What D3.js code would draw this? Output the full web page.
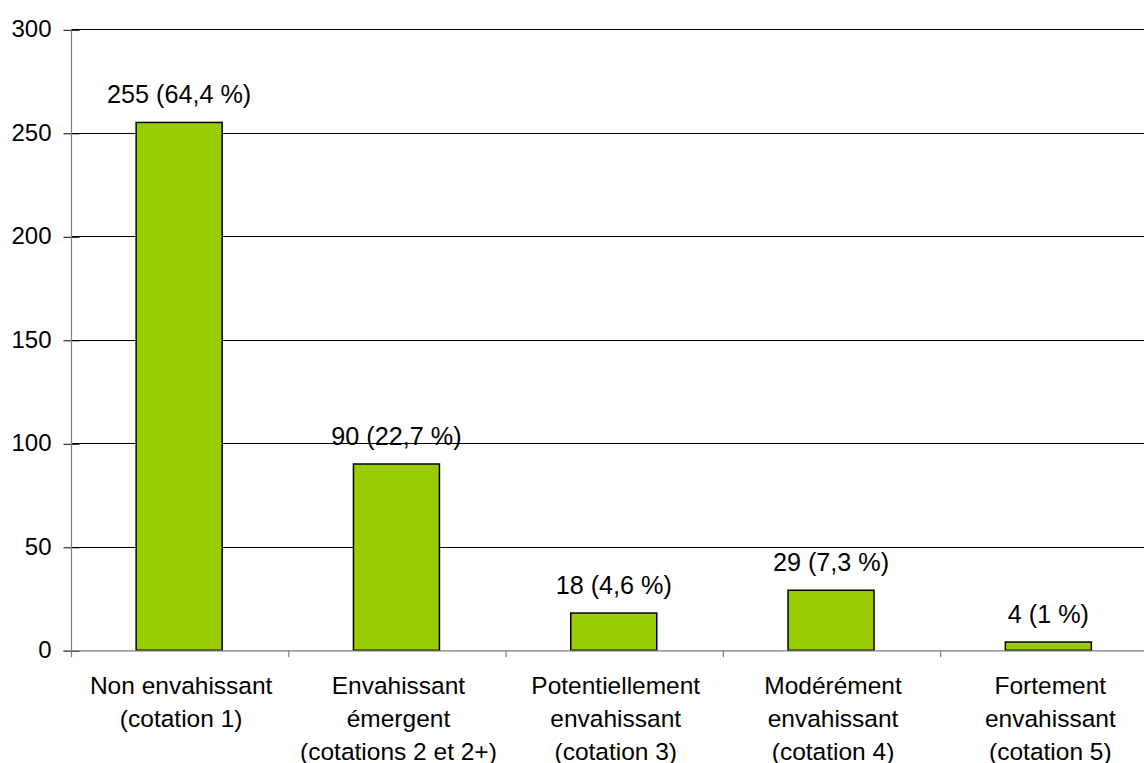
<!DOCTYPE html>
<html>
<head>
<meta charset="utf-8">
<script src="https://cdn.jsdelivr.net/npm/d3@7"></script>
<style>
  html, body { margin: 0; padding: 0; background: #fff; overflow: hidden; }
  svg { display: block; font-family: "Liberation Sans", Arial, sans-serif; }
</style>
</head>
<body>
<svg id="chart" width="1144" height="763"></svg>
<script>
// Categories (each label split over several lines)
const categories = [
  ["Non envahissant", "(cotation 1)"],
  ["Envahissant", "émergent", "(cotations 2 et 2+)"],
  ["Potentiellement", "envahissant", "(cotation 3)"],
  ["Modérément", "envahissant", "(cotation 4)"],
  ["Fortement", "envahissant", "(cotation 5)"]
];
const counts = [255, 90, 18, 29, 4];
const percents = ["64,4", "22,7", "4,6", "7,3", "1"];
const yTicks = [0, 50, 100, 150, 200, 250, 300];

const svg = d3.select("#chart");
const x0 = 71.5, plotW = 1086.5;
const yTop = 29.3, yBottom = 650.3;

const keys = categories.map((c, i) => i);
const x = d3.scaleBand().domain(keys).range([x0, x0 + plotW]).paddingInner(0).paddingOuter(0);
const y = d3.scaleLinear().domain([0, 300]).range([yBottom, yTop]);

const barW = 86;

// Horizontal gridlines
svg.append("g")
  .selectAll("line")
  .data(yTicks.filter(d => d > 0))
  .join("line")
  .attr("x1", x0).attr("x2", 1144)
  .attr("y1", d => Math.round(y(d)) + 0.5).attr("y2", d => Math.round(y(d)) + 0.5)
  .attr("stroke", "#000").attr("stroke-width", 1);

// Bars
svg.append("g")
  .selectAll("rect")
  .data(counts)
  .join("rect")
  .attr("x", (d, i) => x(i) + x.bandwidth() / 2 - barW / 2 - 1)
  .attr("y", d => y(d))
  .attr("width", barW)
  .attr("height", d => y(0) - y(d))
  .attr("fill", "#99CC00")
  .attr("stroke", "#000")
  .attr("stroke-width", 1.5);

// Value labels
svg.append("g")
  .selectAll("text")
  .data(counts)
  .join("text")
  .attr("x", (d, i) => x(i) + x.bandwidth() / 2 - 1)
  .attr("y", d => y(d) - 19)
  .attr("text-anchor", "middle")
  .attr("font-size", 25.2)
  .attr("fill", "#000")
  .text((d, i) => `${d} (${percents[i]} %)`);

// Y axis
const yAxis = d3.axisLeft(y).tickValues(yTicks).tickSize(0).tickPadding(20);
const gy = svg.append("g").attr("transform", `translate(${x0},0)`).call(yAxis);
gy.select(".domain").remove();
gy.selectAll("text").attr("font-size", 24).attr("fill", "#000").attr("font-family", "Liberation Sans, Arial, sans-serif");
gy.selectAll(".tick").append("line")
  .attr("x1", -8).attr("x2", 8)
  .attr("y1", 0.5).attr("y2", 0.5)
  .attr("stroke", "#000");
svg.append("line")
  .attr("x1", x0).attr("x2", x0)
  .attr("y1", yTop).attr("y2", yBottom + 7)
  .attr("stroke", "#7f7f7f").attr("stroke-width", 1.2);

// X axis baseline and ticks between categories
svg.append("line")
  .attr("x1", x0 - 8).attr("x2", 1144)
  .attr("y1", yBottom + 0.5).attr("y2", yBottom + 0.5)
  .attr("stroke", "#7f7f7f").attr("stroke-width", 1.2);
svg.append("g")
  .selectAll("line")
  .data(keys.slice(1))
  .join("line")
  .attr("x1", d => x(d)).attr("x2", d => x(d))
  .attr("y1", yBottom).attr("y2", yBottom + 7)
  .attr("stroke", "#7f7f7f").attr("stroke-width", 1.2);

// Category labels
const cat = svg.append("g")
  .selectAll("text")
  .data(categories)
  .join("text")
  .attr("x", (d, i) => x(i) + x.bandwidth() / 2 + 1)
  .attr("y", 693.5)
  .attr("text-anchor", "middle")
  .attr("font-size", 24.5)
  .attr("fill", "#000");
cat.selectAll("tspan")
  .data(d => d)
  .join("tspan")
  .attr("x", function () { return d3.select(this.parentNode).attr("x"); })
  .attr("dy", (d, i) => i === 0 ? 0 : 33)
  .text(d => d);
</script>
</body>
</html>
